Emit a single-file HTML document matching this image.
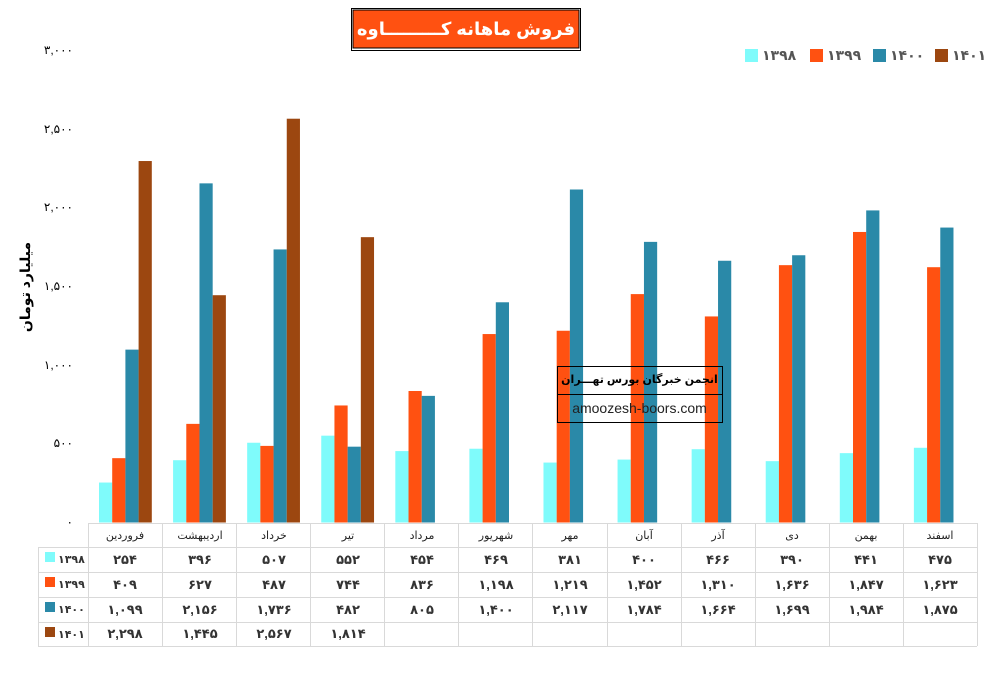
<!DOCTYPE html>
<html><head><meta charset="utf-8"><style>
body{margin:0;background:#fff;position:relative;width:989px;height:676px;overflow:hidden;font-family:"Liberation Sans","Noto Sans CJK SC","DejaVu Sans",sans-serif;}
svg{display:block;position:absolute;left:0;top:0;font-family:"Liberation Sans","Noto Sans CJK SC","DejaVu Sans",sans-serif;}
.t{position:absolute;direction:rtl;text-align:center;white-space:nowrap;}
.lg{position:absolute;top:45px;font-size:14px;font-weight:bold;color:#555;white-space:nowrap;line-height:20px;}
.lg i{display:inline-block;width:13px;height:13px;vertical-align:-2px;margin-right:4px;}
</style></head><body>
<svg id="s" width="989" height="676" xmlns="http://www.w3.org/2000/svg">
<g id="bars"></g>
<rect x="351.5" y="8.5" width="229" height="42" fill="#fff" stroke="#000" stroke-width="1"/>
<rect x="353" y="10" width="226" height="38" fill="#FF5111" stroke="#000" stroke-width="1"/>
<g font-size="12" text-anchor="end" fill="#000">
<text x="73" y="54">۳,۰۰۰</text><text x="73" y="133">۲,۵۰۰</text><text x="73" y="211">۲,۰۰۰</text>
<text x="73" y="290">۱,۵۰۰</text><text x="73" y="369">۱,۰۰۰</text><text x="73" y="447">۵۰۰</text><text x="73" y="526">۰</text>
</g>
<text transform="translate(30,287) rotate(-90)" text-anchor="middle" font-size="14" font-weight="bold" fill="#000">میلیارد تومان</text>
<rect x="557.5" y="366.5" width="165" height="56" fill="none" stroke="#000"/>
<line x1="557" y1="394.5" x2="722" y2="394.5" stroke="#000"/>
<g id="grid" stroke="#d9d9d9" stroke-width="1" fill="none"></g>
<g font-size="11" text-anchor="middle" fill="#222">
<text x="125" y="539">فروردین</text><text x="200" y="539">اردیبهشت</text><text x="274" y="539">خرداد</text><text x="348" y="539">تیر</text><text x="422" y="539">مرداد</text><text x="496" y="539">شهریور</text><text x="570" y="539">مهر</text><text x="644" y="539">آبان</text><text x="718" y="539">آذر</text><text x="792" y="539">دی</text><text x="866" y="539">بهمن</text><text x="940" y="539">اسفند</text>
</g>
<g font-size="13" font-weight="bold" text-anchor="middle" fill="#333">
<text x="125" y="564">۲۵۴</text><text x="200" y="564">۳۹۶</text><text x="274" y="564">۵۰۷</text><text x="348" y="564">۵۵۲</text><text x="422" y="564">۴۵۴</text><text x="496" y="564">۴۶۹</text><text x="570" y="564">۳۸۱</text><text x="644" y="564">۴۰۰</text><text x="718" y="564">۴۶۶</text><text x="792" y="564">۳۹۰</text><text x="866" y="564">۴۴۱</text><text x="940" y="564">۴۷۵</text>
<text x="125" y="589">۴۰۹</text><text x="200" y="589">۶۲۷</text><text x="274" y="589">۴۸۷</text><text x="348" y="589">۷۴۴</text><text x="422" y="589">۸۳۶</text><text x="496" y="589">۱,۱۹۸</text><text x="570" y="589">۱,۲۱۹</text><text x="644" y="589">۱,۴۵۲</text><text x="718" y="589">۱,۳۱۰</text><text x="792" y="589">۱,۶۳۶</text><text x="866" y="589">۱,۸۴۷</text><text x="940" y="589">۱,۶۲۳</text>
<text x="125" y="614">۱,۰۹۹</text><text x="200" y="614">۲,۱۵۶</text><text x="274" y="614">۱,۷۳۶</text><text x="348" y="614">۴۸۲</text><text x="422" y="614">۸۰۵</text><text x="496" y="614">۱,۴۰۰</text><text x="570" y="614">۲,۱۱۷</text><text x="644" y="614">۱,۷۸۴</text><text x="718" y="614">۱,۶۶۴</text><text x="792" y="614">۱,۶۹۹</text><text x="866" y="614">۱,۹۸۴</text><text x="940" y="614">۱,۸۷۵</text>
<text x="125" y="638">۲,۲۹۸</text><text x="200" y="638">۱,۴۴۵</text><text x="274" y="638">۲,۵۶۷</text><text x="348" y="638">۱,۸۱۴</text>
</g>
<g font-size="11" font-weight="bold" fill="#333">
<rect x="45" y="552" width="10" height="10" fill="#7FFBFB"/><text x="58" y="563">۱۳۹۸</text>
<rect x="45" y="577" width="10" height="10" fill="#FF5111"/><text x="58" y="588">۱۳۹۹</text>
<rect x="45" y="602" width="10" height="10" fill="#2A89A8"/><text x="58" y="613">۱۴۰۰</text>
<rect x="45" y="627" width="10" height="10" fill="#9C4710"/><text x="58" y="638">۱۴۰۱</text>
</g>
</svg>
<div class="t" style="left:353px;top:10px;width:226px;height:38px;line-height:38px;font-size:18px;font-weight:bold;color:#fff;">فروش ماهانه کـــــــــاوه</div>
<div class="t" style="left:557px;top:367px;width:165px;height:27px;line-height:27px;font-size:11px;font-weight:bold;color:#000;">انجمن خبرگان بورس تهـــران</div>
<div class="t" style="left:557px;top:395px;width:165px;height:27px;line-height:27px;font-size:14px;color:#222;direction:ltr;">amoozesh-boors.com</div>
<div class="lg" style="left:745px"><i style="background:#7FFBFB"></i>۱۳۹۸</div>
<div class="lg" style="left:810px"><i style="background:#FF5111"></i>۱۳۹۹</div>
<div class="lg" style="left:873px"><i style="background:#2A89A8"></i>۱۴۰۰</div>
<div class="lg" style="left:935px"><i style="background:#9C4710"></i>۱۴۰۱</div>
<script>
var d=[[254,396,507,552,454,469,381,400,466,390,441,475],
[409,627,487,744,836,1198,1219,1452,1310,1636,1847,1623],
[1099,2156,1736,482,805,1400,2117,1784,1664,1699,1984,1875],
[2298,1445,2567,1814]];
var c=["#7FFBFB","#FF5111","#2A89A8","#9C4710"];
var g=document.getElementById("bars"),h="";
for(var s=0;s<4;s++)for(var i=0;i<d[s].length;i++){
 var x=88+i*74.08+11+s*13.2,hh=d[s][i]*0.1573;
 h+='<rect x="'+x+'" y="'+(522.5-hh)+'" width="13.2" height="'+hh+'" fill="'+c[s]+'"/>';}
g.innerHTML=h;
var gr="",ys=[523,547,572,597,622,646];
gr+='<line x1="88" y1="523.5" x2="977" y2="523.5"/>';
for(var k=1;k<ys.length;k++)gr+='<line x1="38" y1="'+(ys[k]+.5)+'" x2="977" y2="'+(ys[k]+.5)+'"/>';
gr+='<line x1="38.5" y1="547" x2="38.5" y2="646"/>';
for(var j=0;j<=12;j++){var xx=Math.round(88+j*74.08)+.5;gr+='<line x1="'+xx+'" y1="523" x2="'+xx+'" y2="646"/>';}
document.getElementById("grid").innerHTML=gr;
</script>
</body></html>
